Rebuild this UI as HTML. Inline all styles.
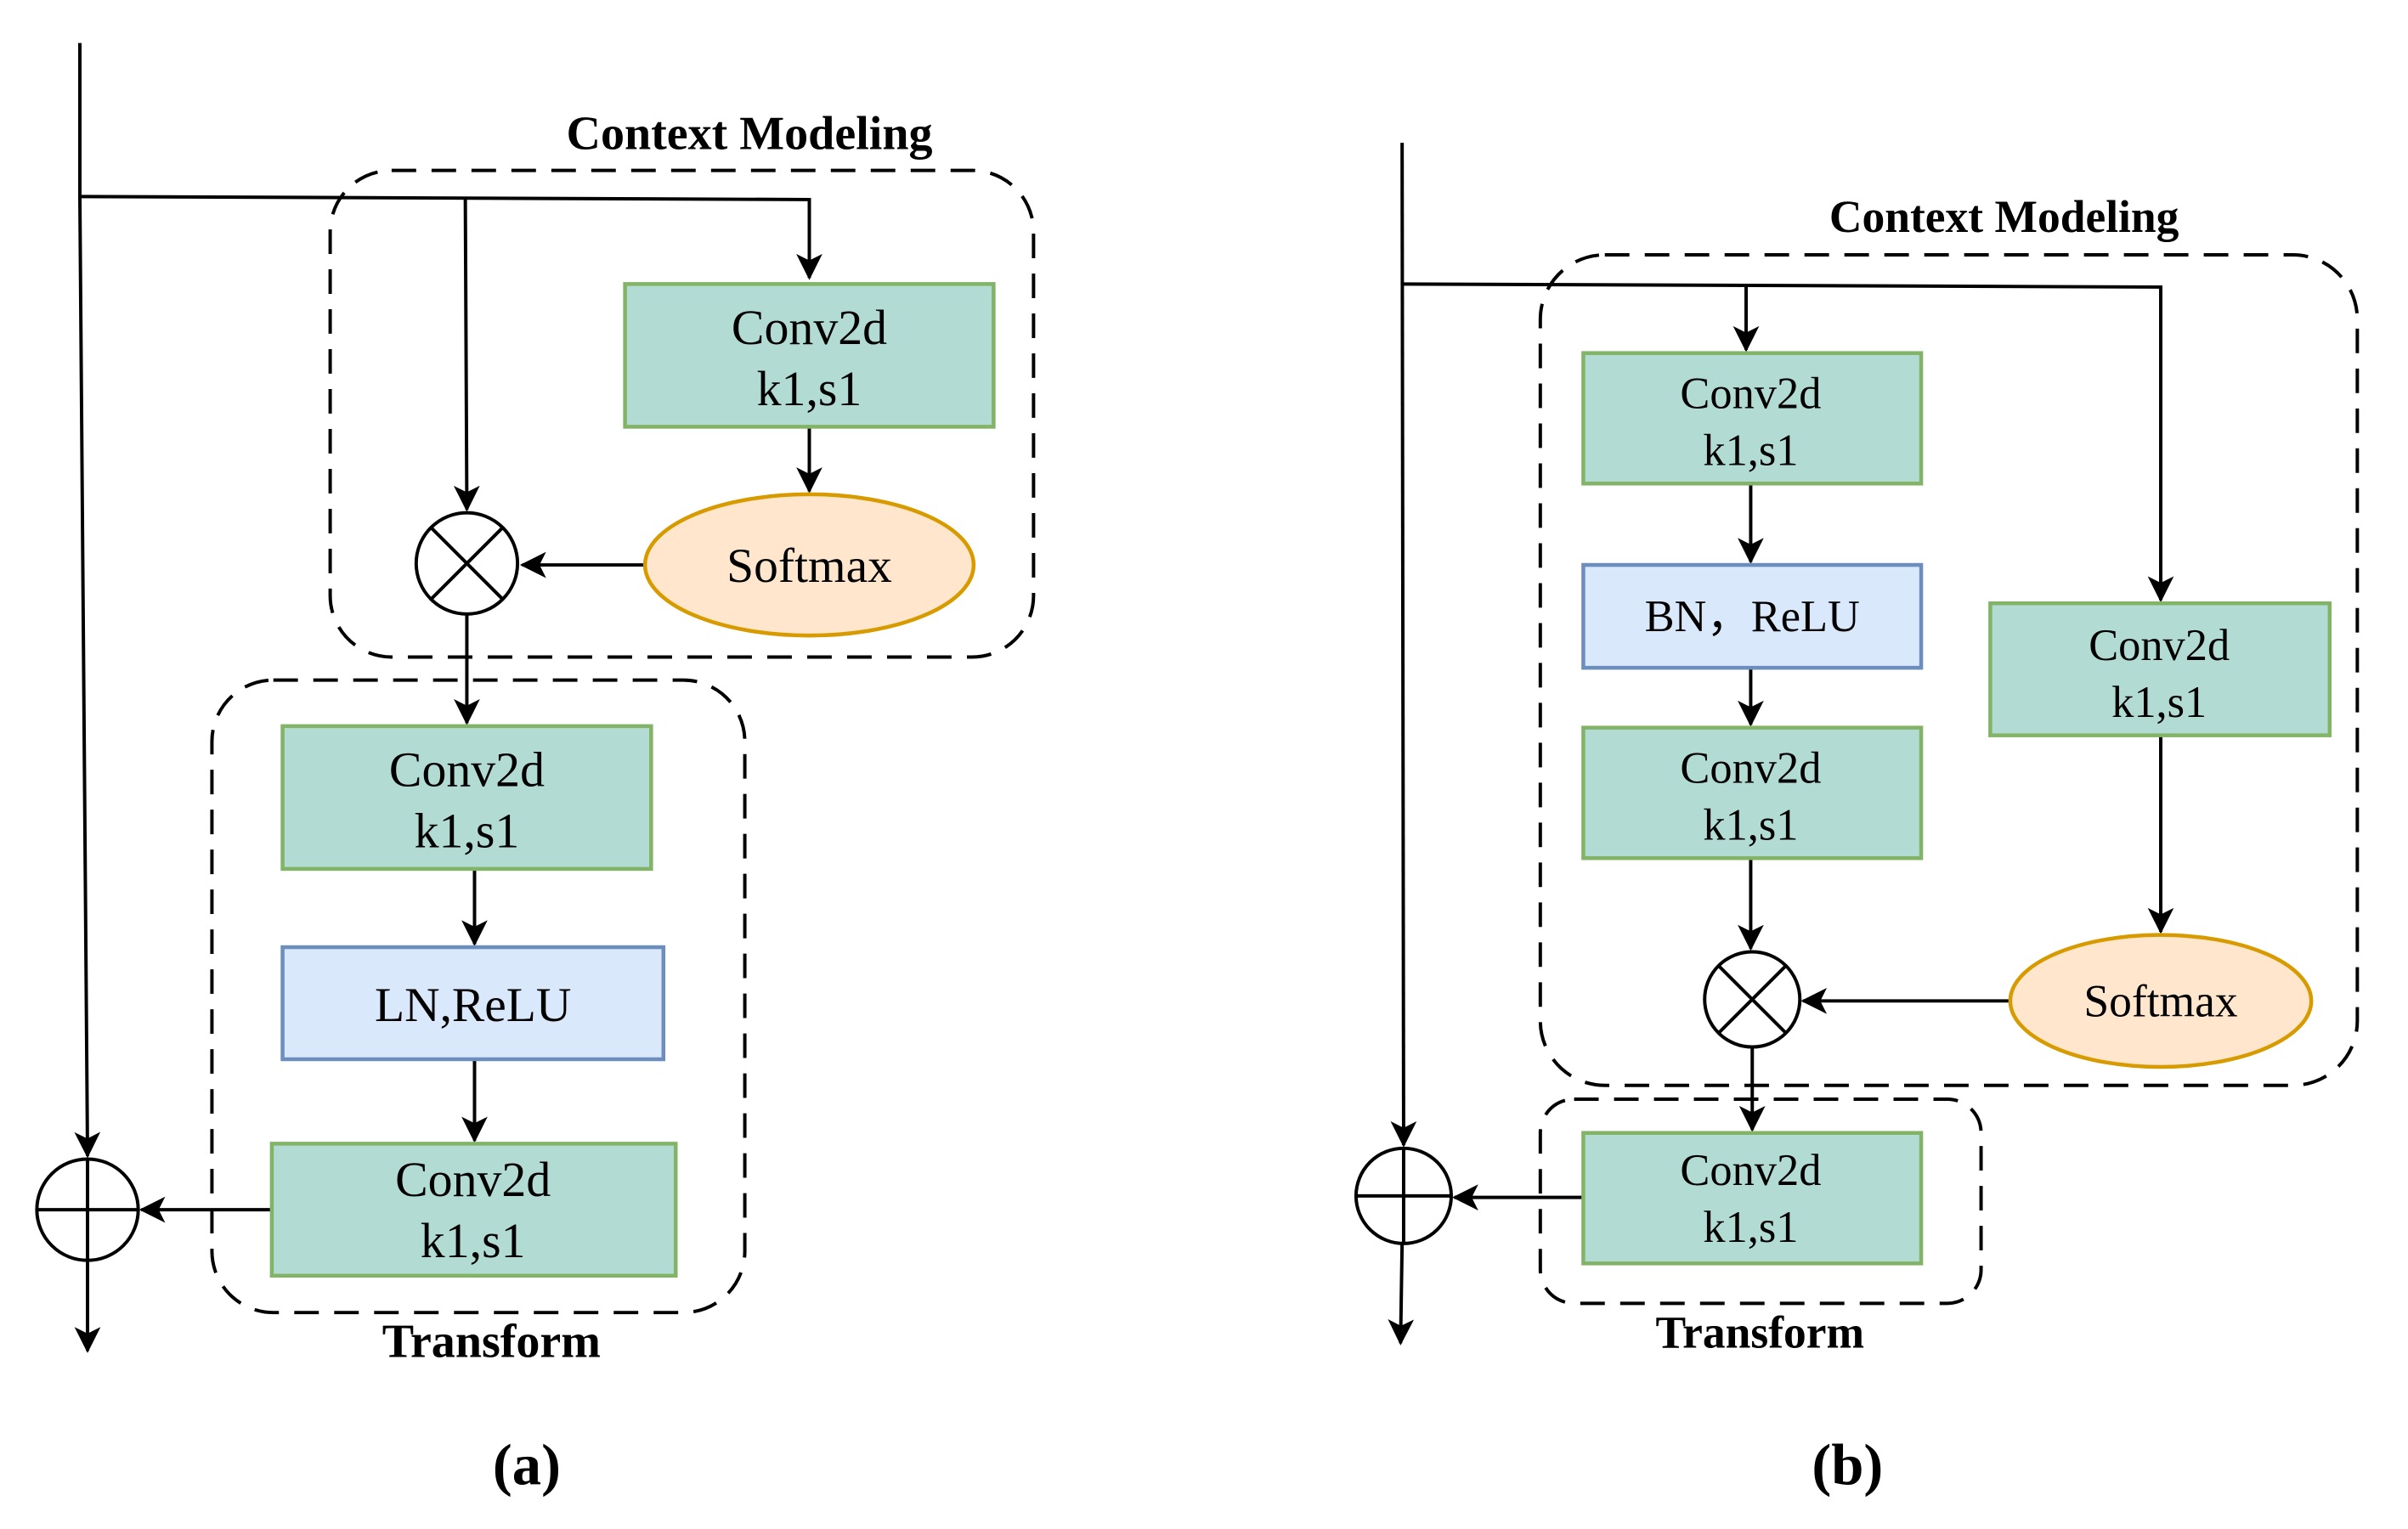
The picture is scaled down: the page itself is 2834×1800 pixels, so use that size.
<!DOCTYPE html>
<html><head><meta charset="utf-8">
<style>html,body{margin:0;padding:0;background:#fff}svg{display:block}</style>
</head><body>
<svg xmlns="http://www.w3.org/2000/svg" width="2834" height="1800" viewBox="0 0 1568 996" preserveAspectRatio="none" font-family="'Liberation Serif',serif">
<defs>
<marker id="a" viewBox="0 0 12 12" refX="11" refY="6" markerWidth="17" markerHeight="17" orient="auto" markerUnits="userSpaceOnUse"><path d="M0,0 L12,6 L0,12 L3,6 z" fill="#000"/></marker>
</defs>
<g fill="none" stroke="#000" stroke-width="2.2">
<rect x="215" y="111" width="458" height="317" rx="40" stroke-dasharray="16,10"/>
<rect x="138" y="443" width="347" height="412" rx="40" stroke-dasharray="16,10"/>
<path d="M52,28 L52,128 M52,128 L57,753" marker-end="url(#a)"/>
<path d="M57,821 L57,880" marker-end="url(#a)"/>
<path d="M52,128 L527,130 L527,181" marker-end="url(#a)"/>
<path d="M303,130 L304,332" marker-end="url(#a)"/>
<path d="M527,278 L527,320" marker-end="url(#a)"/>
<path d="M420,368 L340,368" marker-end="url(#a)"/>
<path d="M304,400 L304,471" marker-end="url(#a)"/>
<path d="M309,566 L309,615" marker-end="url(#a)"/>
<path d="M309,690 L309,743" marker-end="url(#a)"/>
<path d="M177,788 L92,788" marker-end="url(#a)"/>
<circle cx="304" cy="367" r="33"/>
<path d="M281,344 L327,390 M327,344 L281,390"/>
<circle cx="57" cy="788" r="33"/>
<path d="M24,788 L90,788 M57,755 L57,821"/>
<rect x="1003" y="166" width="532" height="541" rx="42" stroke-dasharray="16,10"/>
<rect x="1003" y="716" width="287" height="133" rx="22" stroke-dasharray="16,10"/>
<path d="M913,93 L914,746" marker-end="url(#a)"/>
<path d="M913,810 L912,875" marker-end="url(#a)"/>
<path d="M913,185 L1407,187 L1407,391" marker-end="url(#a)"/>
<path d="M1137,186 L1137,228" marker-end="url(#a)"/>
<path d="M1140,315 L1140,366" marker-end="url(#a)"/>
<path d="M1140,435 L1140,472" marker-end="url(#a)"/>
<path d="M1140,559 L1140,618" marker-end="url(#a)"/>
<path d="M1407,479 L1407,607" marker-end="url(#a)"/>
<path d="M1309,652 L1174,652" marker-end="url(#a)"/>
<path d="M1141,682 L1141,736" marker-end="url(#a)"/>
<path d="M1031,780 L947,780" marker-end="url(#a)"/>
<circle cx="1141" cy="651" r="31"/>
<path d="M1119,629 L1163,673 M1163,629 L1119,673"/>
<circle cx="914" cy="779" r="31"/>
<path d="M883,779 L945,779 M914,748 L914,810"/>
</g>
<g stroke-width="2.5">
<rect x="407" y="185" width="240" height="93" fill="#b2dcd3" stroke="#82b366"/>
<ellipse cx="527" cy="368" rx="107" ry="46" fill="#ffe6cc" stroke="#d79b00"/>
<rect x="184" y="473" width="240" height="93" fill="#b2dcd3" stroke="#82b366"/>
<rect x="184" y="617" width="248" height="73" fill="#dae8fc" stroke="#6c8ebf"/>
<rect x="177" y="745" width="263" height="86" fill="#b2dcd3" stroke="#82b366"/>
<rect x="1031" y="230" width="220" height="85" fill="#b2dcd3" stroke="#82b366"/>
<rect x="1031" y="368" width="220" height="67" fill="#dae8fc" stroke="#6c8ebf"/>
<rect x="1031" y="474" width="220" height="85" fill="#b2dcd3" stroke="#82b366"/>
<rect x="1296" y="393" width="221" height="86" fill="#b2dcd3" stroke="#82b366"/>
<ellipse cx="1407" cy="652" rx="98" ry="43" fill="#ffe6cc" stroke="#d79b00"/>
<rect x="1031" y="738" width="220" height="85" fill="#b2dcd3" stroke="#82b366"/>
</g>
<g font-size="32" text-anchor="middle" fill="#000">
<text x="527" y="224">Conv2d</text><text x="527" y="264">k1,s1</text>
<text x="527" y="379" font-size="31.8">Softmax</text>
<text x="304" y="512">Conv2d</text><text x="304" y="552">k1,s1</text>
<text x="308" y="665" font-size="31.8">LN,ReLU</text>
<text x="308" y="779">Conv2d</text><text x="308" y="819">k1,s1</text>
<text x="1140" y="266" font-size="29">Conv2d</text><text x="1140" y="303" font-size="29">k1,s1</text>
<text x="1141" y="411" font-size="29">BN，ReLU</text>
<text x="1140" y="510" font-size="29">Conv2d</text><text x="1140" y="547" font-size="29">k1,s1</text>
<text x="1406" y="430" font-size="29">Conv2d</text><text x="1406" y="467" font-size="29">k1,s1</text>
<text x="1407" y="662" font-size="29.6">Softmax</text>
<text x="1140" y="772" font-size="29">Conv2d</text><text x="1140" y="809" font-size="29">k1,s1</text>
<g font-weight="bold">
<text x="488" y="97" font-size="31">Context Modeling</text>
<text x="320" y="884" font-size="31">Transform</text>
<text x="1305" y="151" font-size="29.6">Context Modeling</text>
<text x="1146" y="878" font-size="29.6">Transform</text>
<text x="343" y="967" font-size="38">(a)</text>
<text x="1203" y="967" font-size="38">(b)</text>
</g>
</g>
</svg>
</body></html>
